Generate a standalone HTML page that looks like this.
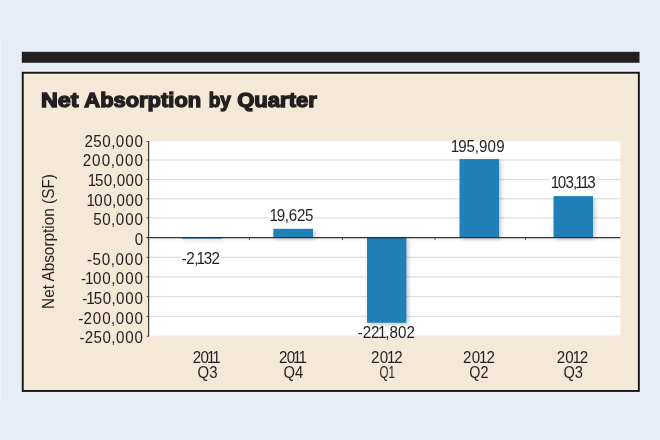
<!DOCTYPE html>
<html lang="en"><head><meta charset="utf-8"><title>Net Absorption by Quarter</title>
<style>
html,body{margin:0;padding:0;background:#e6edf6;}
body{width:660px;height:440px;overflow:hidden;}
svg{display:block;}
text{font-family:"Liberation Sans",sans-serif;fill:#231f20;}
.t{font-size:17.0px;}
.title{font-size:21px;font-weight:bold;stroke:#231f20;stroke-width:1.4px;stroke-linejoin:miter;}
</style></head><body>
<svg width="660" height="440" viewBox="0 0 660 440">
<defs><linearGradient id="zs" x1="0" y1="0" x2="0" y2="1"><stop offset="0" stop-color="#000" stop-opacity="0.07"/><stop offset="1" stop-color="#000" stop-opacity="0"/></linearGradient><clipPath id="pc"><rect x="149" y="141.4" width="471.4" height="195"/></clipPath><filter id="hb" x="-10%" y="-20%" width="120%" height="140%"><feGaussianBlur stdDeviation="0.7"/></filter><filter id="sh" x="-20%" y="-20%" width="150%" height="150%"><feGaussianBlur in="SourceAlpha" stdDeviation="2.2"/><feOffset dx="2.2" dy="2.2"/><feComponentTransfer><feFuncA type="linear" slope="0.22"/></feComponentTransfer><feMerge><feMergeNode/><feMergeNode in="SourceGraphic"/></feMerge></filter></defs>
<rect x="0" y="0" width="660" height="440" fill="#e6edf6"/>
<rect x="0" y="38.5" width="1.1" height="362.5" fill="#f2f6fb"/>
<rect x="21.8" y="51.8" width="617.7" height="11" fill="#231f20"/>
<rect x="22.75" y="72.75" width="616.1" height="318.2" fill="#f4e8d6" stroke="#171415" stroke-width="1.9"/>
<text class="title" y="107.2"><tspan x="40.96" textLength="37.52" lengthAdjust="spacingAndGlyphs">Net</tspan> <tspan x="84.37" textLength="116.77" lengthAdjust="spacingAndGlyphs">Absorption</tspan> <tspan x="208.66" textLength="22.23" lengthAdjust="spacingAndGlyphs">by</tspan> <tspan x="237.20" textLength="79.62" lengthAdjust="spacingAndGlyphs">Quarter</tspan></text>
<rect x="149.0" y="141.4" width="471.4" height="195.0" fill="#ffffff"/>
<rect x="149.0" y="159.35" width="471.4" height="1.3" fill="#dfdfe0"/>
<rect x="149.0" y="178.85" width="471.4" height="1.3" fill="#dfdfe0"/>
<rect x="149.0" y="198.15" width="471.4" height="1.3" fill="#dfdfe0"/>
<rect x="149.0" y="217.15" width="471.4" height="1.3" fill="#dfdfe0"/>
<rect x="149.0" y="256.65" width="471.4" height="1.3" fill="#dfdfe0"/>
<rect x="149.0" y="276.25" width="471.4" height="1.3" fill="#dfdfe0"/>
<rect x="149.0" y="295.95" width="471.4" height="1.3" fill="#dfdfe0"/>
<rect x="149.0" y="315.75" width="471.4" height="1.3" fill="#dfdfe0"/>
<rect x="149.0" y="335.60" width="471.4" height="0.8" fill="#e6e6e7"/>
<g filter="url(#sh)">
<rect x="181.9" y="237.3" width="40.0" height="1.3" fill="#2080b8"/>
<rect x="273.3" y="228.8" width="39.7" height="8.5" fill="#2080b8"/>
<rect x="367.0" y="237.3" width="39.4" height="85.5" fill="#2080b8"/>
<rect x="459.5" y="159.1" width="39.6" height="78.2" fill="#2080b8"/>
<rect x="553.5" y="196.1" width="39.5" height="41.2" fill="#2080b8"/>
</g>
<rect x="149.0" y="237.70" width="471.4" height="4" fill="url(#zs)"/>
<rect x="146.5" y="237.05" width="473.9" height="1.15" fill="#2b2728"/>
<rect x="248.95" y="237.60" width="0.9" height="2.4" fill="#4a4647"/>
<rect x="341.95" y="237.60" width="0.9" height="2.4" fill="#4a4647"/>
<rect x="434.55" y="237.60" width="0.9" height="2.4" fill="#4a4647"/>
<rect x="525.15" y="237.60" width="0.9" height="2.4" fill="#4a4647"/>
<rect x="148.1" y="141.4" width="1.1" height="194.99999999999997" fill="#2b2728"/>
<rect x="146.6" y="141.05" width="2" height="0.9" fill="#3a3637"/>
<rect x="146.6" y="159.55" width="2" height="0.9" fill="#3a3637"/>
<rect x="146.6" y="179.05" width="2" height="0.9" fill="#3a3637"/>
<rect x="146.6" y="198.35" width="2" height="0.9" fill="#3a3637"/>
<rect x="146.6" y="217.35" width="2" height="0.9" fill="#3a3637"/>
<rect x="146.6" y="256.85" width="2" height="0.9" fill="#3a3637"/>
<rect x="146.6" y="276.45" width="2" height="0.9" fill="#3a3637"/>
<rect x="146.6" y="296.15" width="2" height="0.9" fill="#3a3637"/>
<rect x="146.6" y="315.95" width="2" height="0.9" fill="#3a3637"/>
<rect x="146.6" y="335.75" width="2" height="0.9" fill="#3a3637"/>
<text class="t" transform="matrix(0.89 0 0 1 0 0)" x="94.99 104.82 114.95 124.94 130.17 140.68 151.19" y="146.8">250,000</text>
<text class="t" transform="matrix(0.89 0 0 1 0 0)" x="93.08 103.48 114.21 124.35 129.74 140.47 151.19" y="166.5">200,000</text>
<text class="t" transform="matrix(0.89 0 0 1 0 0)" x="98.48 106.86 116.54 126.19 131.09 141.14 151.19" y="186.1">150,000</text>
<text class="t" transform="matrix(0.89 0 0 1 0 0)" x="97.25 106.05 116.20 125.93 130.89 141.04 151.19" y="205.8">100,000</text>
<text class="t" transform="matrix(0.89 0 0 1 0 0)" x="104.71 114.86 124.87 130.12 140.66 151.19" y="225.5">50,000</text>
<text class="t" transform="matrix(0.89 0 0 1 0 0)" x="151.33" y="245.2">0</text>
<text class="t" transform="matrix(0.89 0 0 1 0 0)" x="97.79 103.93 114.24 124.38 129.76 140.48 151.19" y="264.8">-50,000</text>
<text class="t" transform="matrix(0.89 0 0 1 0 0)" x="90.94 95.40 104.49 114.99 124.97 130.20 140.70 151.19" y="284.5">-100,000</text>
<text class="t" transform="matrix(0.89 0 0 1 0 0)" x="92.40 96.79 105.42 115.41 125.31 130.44 140.82 151.19" y="304.2">-150,000</text>
<text class="t" transform="matrix(0.89 0 0 1 0 0)" x="87.90 93.97 104.21 114.77 124.80 130.07 140.63 151.19" y="323.8">-200,000</text>
<text class="t" transform="matrix(0.89 0 0 1 0 0)" x="89.36 95.35 105.12 115.17 125.12 130.30 140.75 151.19" y="343.5">-250,000</text>
<text class="t" style="font-size:16.6px" transform="translate(54 307.7) rotate(-90)" x="-1.26" y="0" textLength="134.92" lengthAdjust="spacingAndGlyphs">Net Absorption (SF)</text>
<rect x="180.5" y="250.3" width="40.4" height="15.6" rx="2.5" fill="#fff" filter="url(#hb)" clip-path="url(#pc)"/>
<text class="t" transform="matrix(0.89 0 0 1 0 0)" x="204.08 209.29 218.19 220.93 228.82 237.58" y="263.9">-2,132</text>
<rect x="268.8" y="207.1" width="45.7" height="15.6" rx="2.5" fill="#fff" filter="url(#hb)" clip-path="url(#pc)"/>
<text class="t" transform="matrix(0.89 0 0 1 0 0)" x="302.75 310.93 320.07 324.41 333.61 342.59" y="220.7">19,625</text>
<text class="t" transform="matrix(0.89 0 0 1 0 0)" x="402.06 407.61 416.90 424.70 432.93 437.52 447.20 456.79" y="337.6">-221,802</text>
<rect x="450.1" y="138.9" width="55.6" height="15.6" rx="2.5" fill="#fff" filter="url(#hb)" clip-path="url(#pc)"/>
<text class="t" transform="matrix(0.89 0 0 1 0 0)" x="506.46 514.89 524.26 533.45 538.08 547.78 557.53" y="152.5">195,909</text>
<rect x="550.1" y="174.5" width="46.8" height="15.6" rx="2.5" fill="#fff" filter="url(#hb)" clip-path="url(#pc)"/>
<text class="t" transform="matrix(0.89 0 0 1 0 0)" x="618.82 626.60 635.29 643.78 646.25 652.41 659.93" y="188.1">103,113</text>
<text class="t" transform="matrix(0.89 0 0 1 0 0)" x="216.68 225.24 232.47 238.56" y="362.7">2011</text>
<text class="t" x="197.50" y="378.2" textLength="19.95" lengthAdjust="spacingAndGlyphs">Q3</text>
<text class="t" transform="matrix(0.89 0 0 1 0 0)" x="313.53 322.09 329.32 335.41" y="362.7">2011</text>
<text class="t" x="283.41" y="378.2" textLength="19.72" lengthAdjust="spacingAndGlyphs">Q4</text>
<text class="t" transform="matrix(0.89 0 0 1 0 0)" x="416.90 426.56 434.74 443.08" y="362.7">2012</text>
<text class="t" x="379.45" y="378.2" textLength="15.50" lengthAdjust="spacingAndGlyphs">Q1</text>
<text class="t" transform="matrix(0.89 0 0 1 0 0)" x="520.27 529.97 538.18 546.57" y="362.7">2012</text>
<text class="t" x="469.33" y="378.2" textLength="19.09" lengthAdjust="spacingAndGlyphs">Q2</text>
<text class="t" transform="matrix(0.89 0 0 1 0 0)" x="625.55 635.12 643.23 651.51" y="362.7">2012</text>
<text class="t" x="563.41" y="378.2" textLength="19.52" lengthAdjust="spacingAndGlyphs">Q3</text>
</svg>
</body></html>
